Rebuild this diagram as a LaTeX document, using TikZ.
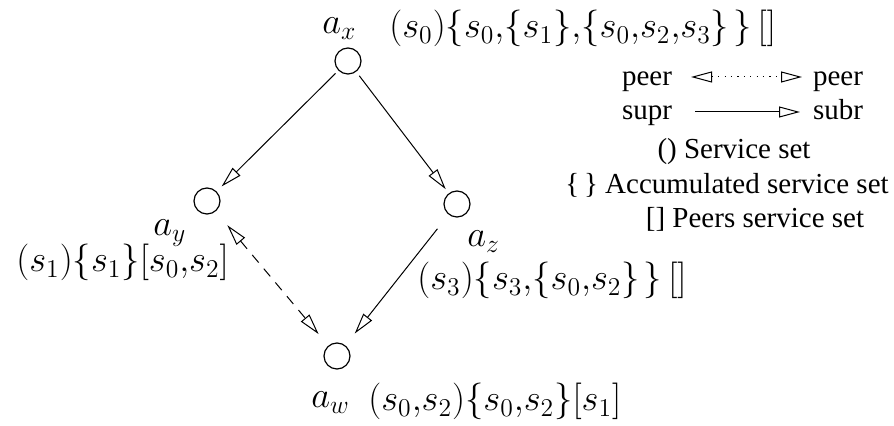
\documentclass[tikz,border=0pt]{standalone}
\usepackage{fix-cm}
\usepackage{fontspec}
\setmainfont{Liberation Serif}
\usetikzlibrary{arrows.meta,positioning}

\begin{document}
\begin{tikzpicture}[x=0.5pt,y=-0.5pt,
  vtx/.style={circle,draw,line width=0.6pt,minimum size=13pt,inner sep=0pt},
  subarr/.style={-{Triangle[open,length=10.5pt,width=5.5pt]},line width=0.5pt},
  peerarr/.style={{Triangle[open,length=10.5pt,width=5.5pt]}-{Triangle[open,length=10.5pt,width=5.5pt]},line width=0.5pt},
  mlbl/.style={anchor=base west,inner sep=0pt,font=\fontsize{18.3}{22}\selectfont},
  leg/.style={anchor=base,inner sep=0pt,font=\fontsize{14.5}{17}\selectfont}]
\useasboundingbox (0,0) rectangle (894,426);
% agents
\node[vtx] (ax) at (348,61) {};
\node[vtx] (ay) at (207,201) {};
\node[vtx] (az) at (457,204) {};
\node[vtx] (aw) at (337,356) {};
\node[mlbl] (axname) at (322,34) {$a_x$};
\node[mlbl] (axset) at (389,38) {$(s_0)\{s_0{,}\{s_1\}{,}\{s_0{,}s_2{,}s_3\}\mkern2mu\}\,[]$};
\node[mlbl] (ayname) at (153,236) {$a_y$};
\node[mlbl] (ayset) at (16,272) {$(s_1)\{s_1\}[s_0{,}s_2]$};
\node[mlbl] (azname) at (467,247) {$a_z$};
\node[mlbl] (azset) at (417,290) {$(s_3)\{s_3{,}\{s_0{,}s_2\}\mkern2mu\}\,[]$};
\node[mlbl] (awname) at (311,408) {$a_w$};
\node[mlbl] (awset) at (368,411) {$(s_0{,}s_2)\{s_0{,}s_2\}[s_1]$};
% supr -> subr, peer <-> peer
\draw[subarr,shorten <=2pt,shorten >=3.5pt] (ax) -- (ay);
\draw[subarr,shorten <=2.5pt,shorten >=2.5pt] (ax) -- (az);
\draw[subarr,shorten <=9pt,shorten >=7.5pt] (az) -- (aw);
\draw[peerarr,dash pattern=on 5pt off 4pt,shorten <=9pt,shorten >=7.5pt] (ay) -- (aw);
% legend
\node[leg] (peerl) at (647,86) {peer};
\node[leg] (peerr) at (838,86) {peer};
\node[leg] (supr) at (647,120) {supr};
\node[leg] (subr) at (838,120) {subr};
\coordinate (dl) at (691,77);
\coordinate (dr) at (802,77);
\coordinate (sl) at (695,112);
\coordinate (sr) at (800,112);
\draw[peerarr,dash pattern=on 0.6pt off 2.6pt] (dl) -- (dr);
\draw[subarr] (sl) -- (sr);
\node[leg] (svc) at (734,159) {() Service set};
\node[leg] (acc) at (727,194) {\{\,\} Accumulated service set};
\node[leg] (prs) at (755,228) {[] Peers service set};
\end{tikzpicture}
\end{document}
